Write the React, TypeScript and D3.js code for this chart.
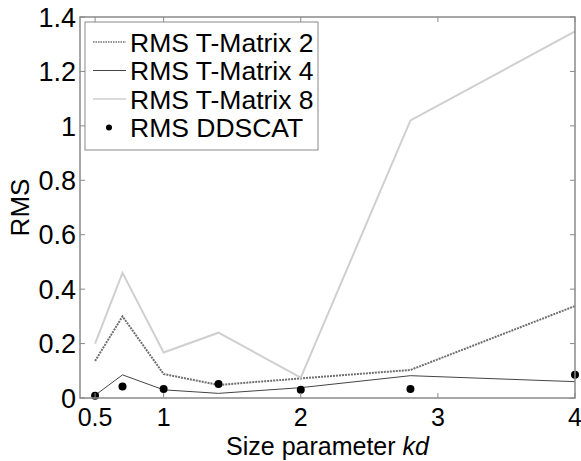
import React from 'react';
import * as d3 from 'd3';

const width = 581;
const height = 461;
const margin = { top: 17, right: 6, bottom: 63, left: 80 };

const kd = [0.5, 0.7, 1, 1.4, 2, 2.8, 4];
const tm2 = [0.136, 0.3, 0.088, 0.048, 0.072, 0.103, 0.338];
const tm4 = [0.01, 0.085, 0.03, 0.017, 0.038, 0.082, 0.06];
const tm8 = [0.2, 0.46, 0.167, 0.24, 0.075, 1.02, 1.347];
const ddscat = [0.008, 0.042, 0.033, 0.051, 0.03, 0.033, 0.085];

const xTicks = [0.5, 1, 2, 3, 4];
const yTicks = [0, 0.2, 0.4, 0.6, 0.8, 1, 1.2, 1.4];

const series = [
    { name: 'RMS T-Matrix 2', values: tm2, stroke: '#707070', width: 2, dash: '2,1' },
    { name: 'RMS T-Matrix 4', values: tm4, stroke: '#444444', width: 1, dash: null },
    { name: 'RMS T-Matrix 8', values: tm8, stroke: '#cfcfcf', width: 2, dash: null },
];

const font = "'Liberation Sans', Arial, sans-serif";

export default function App() {
    const x = d3.scaleLinear().domain([0.39, 4]).range([margin.left, width - margin.right]);
    const y = d3.scaleLinear().domain([0, 1.4]).range([height - margin.bottom, margin.top]);
    const x0 = margin.left, x1 = width - margin.right;
    const y0 = height - margin.bottom, y1 = margin.top;
    const axisColor = '#8a8a8a';
    const tick = 5;

    const line = (vals: number[]) =>
        d3.line<number>().x((_, i) => x(kd[i])).y(d => y(d))(vals) || '';

    const lgX = 85, lgY = 22, lgW = 233, lgH = 128, rowH = 28.5;

    return (
        <svg width={width} height={height} style={{ position: 'absolute', left: 0, top: 0, background: '#fff' }}>
            {series.map(s => (
                <path key={s.name} d={line(s.values)} fill="none" stroke={s.stroke}
                    strokeWidth={s.width} strokeDasharray={s.dash || undefined} />
            ))}
            {ddscat.map((d, i) => (
                <circle key={i} cx={x(kd[i])} cy={y(d)} r={4} fill="#000" />
            ))}

            <rect x={x0} y={y1} width={x1 - x0} height={y0 - y1} fill="none" stroke={axisColor} strokeWidth={1.5} />
            {xTicks.map(t => (
                <g key={t}>
                    <line x1={x(t)} x2={x(t)} y1={y0} y2={y0 - tick} stroke={axisColor} />
                    <line x1={x(t)} x2={x(t)} y1={y1} y2={y1 + tick} stroke={axisColor} />
                    <text x={x(t)} y={y0 + 28} textAnchor="middle" fontFamily={font} fontSize={25} fill="#000">{t}</text>
                </g>
            ))}
            {yTicks.map(t => (
                <g key={t}>
                    <line x1={x0} x2={x0 + tick} y1={y(t)} y2={y(t)} stroke={axisColor} />
                    <line x1={x1} x2={x1 - tick} y1={y(t)} y2={y(t)} stroke={axisColor} />
                    <text x={x0 - 4} y={y(t)} dy="0.36em" textAnchor="end" fontFamily={font} fontSize={27} fill="#000">{t}</text>
                </g>
            ))}

            <text x={(x0 + x1) / 2} y={455} textAnchor="middle" fontFamily={font} fontSize={25} fill="#000">
                Size parameter <tspan fontStyle="italic">kd</tspan>
            </text>
            <text transform={`translate(29, ${(y0 + y1) / 2}) rotate(-90)`} textAnchor="middle" fontFamily={font} fontSize={26} fill="#000">RMS</text>

            <rect x={lgX} y={lgY} width={lgW} height={lgH} fill="#fff" stroke={axisColor} strokeWidth={1} />
            {series.map((s, i) => {
                const cy = lgY + 20 + i * rowH;
                return (
                    <g key={s.name}>
                        <line x1={lgX + 8} x2={lgX + 41} y1={cy} y2={cy} stroke={s.stroke}
                            strokeWidth={s.width === 2 ? 1.5 : 1} strokeDasharray={s.dash ? '1.5,1' : undefined} />
                        <text x={lgX + 45} y={cy} dy="0.36em" fontFamily={font} fontSize={26.5} fill="#000">{s.name}</text>
                    </g>
                );
            })}
            <circle cx={lgX + 24} cy={lgY + 20 + 3 * rowH} r={3} fill="#000" />
            <text x={lgX + 45} y={lgY + 20 + 3 * rowH} dy="0.36em" fontFamily={font} fontSize={26.5} fill="#000">RMS DDSCAT</text>
        </svg>
    );
}
